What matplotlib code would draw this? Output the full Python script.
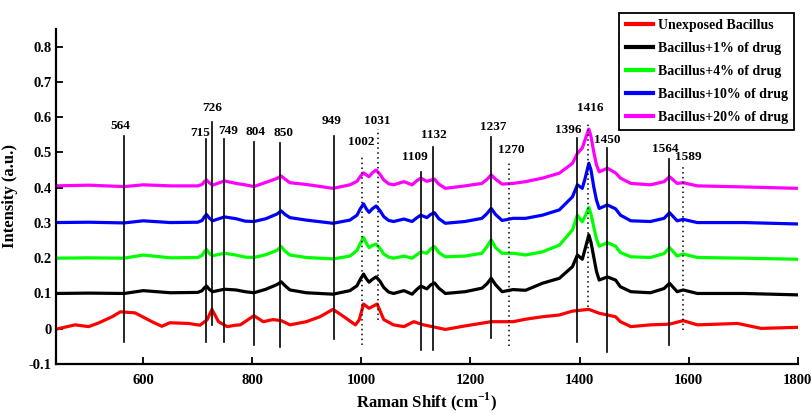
import matplotlib
matplotlib.use("Agg")
import matplotlib.pyplot as plt

plt.rcParams['font.family'] = ['Liberation Serif', 'DejaVu Serif']
plt.rcParams['font.weight'] = 'bold'
plt.rcParams['mathtext.fontset'] = 'custom'
plt.rcParams['mathtext.rm'] = 'Liberation Serif:bold'
plt.rcParams['mathtext.bf'] = 'Liberation Serif:bold'

# shared wavenumber grid for the four offset spectra
shift = [438, 500, 565, 600, 650, 700, 708, 712, 716, 721, 727, 749, 770, 787, 803, 825,
         845, 853, 860, 869, 899, 948, 979, 992, 998, 1004, 1009, 1014, 1020, 1027, 1034,
         1041, 1050, 1059, 1078, 1093, 1102, 1109, 1120, 1127, 1134, 1142, 1154, 1190, 1221,
         1230, 1238, 1246, 1258, 1278, 1301, 1332, 1363, 1387, 1396, 1405, 1410, 1417, 1421,
         1426, 1431, 1436, 1451, 1466, 1475, 1494, 1530, 1555, 1565, 1579, 1590, 1616, 1702, 1800]

drug1 = [0.100, 0.101, 0.100, 0.108, 0.102, 0.103, 0.108, 0.116, 0.121, 0.112, 0.105, 0.112,
         0.110, 0.105, 0.102, 0.112, 0.125, 0.133, 0.122, 0.110, 0.102, 0.098, 0.108, 0.122,
         0.140, 0.155, 0.142, 0.132, 0.140, 0.147, 0.135, 0.117, 0.104, 0.100, 0.108, 0.098,
         0.112, 0.121, 0.113, 0.124, 0.130, 0.115, 0.100, 0.105, 0.115, 0.127, 0.143, 0.125,
         0.105, 0.111, 0.109, 0.129, 0.143, 0.176, 0.209, 0.197, 0.225, 0.266, 0.245, 0.204,
         0.163, 0.138, 0.147, 0.138, 0.119, 0.105, 0.102, 0.114, 0.129, 0.105, 0.110, 0.100,
         0.100, 0.096]

drug4 = [0.200, 0.201, 0.200, 0.209, 0.201, 0.202, 0.208, 0.218, 0.225, 0.214, 0.207, 0.214,
         0.209, 0.203, 0.202, 0.210, 0.222, 0.233, 0.220, 0.209, 0.202, 0.198, 0.206, 0.222,
         0.242, 0.259, 0.243, 0.230, 0.236, 0.240, 0.228, 0.212, 0.203, 0.200, 0.206, 0.200,
         0.210, 0.218, 0.214, 0.226, 0.233, 0.216, 0.204, 0.206, 0.214, 0.232, 0.252, 0.230,
         0.214, 0.214, 0.209, 0.218, 0.237, 0.280, 0.322, 0.303, 0.318, 0.344, 0.325, 0.289,
         0.255, 0.234, 0.244, 0.234, 0.216, 0.204, 0.202, 0.213, 0.230, 0.206, 0.212, 0.202,
         0.200, 0.197]

drug10 = [0.301, 0.302, 0.300, 0.306, 0.301, 0.302, 0.307, 0.317, 0.324, 0.314, 0.306, 0.317,
          0.312, 0.305, 0.304, 0.312, 0.325, 0.334, 0.324, 0.315, 0.308, 0.299, 0.308, 0.322,
          0.340, 0.354, 0.340, 0.330, 0.340, 0.348, 0.335, 0.318, 0.307, 0.304, 0.311, 0.304,
          0.315, 0.322, 0.315, 0.324, 0.329, 0.312, 0.299, 0.304, 0.313, 0.326, 0.341, 0.324,
          0.307, 0.313, 0.313, 0.322, 0.337, 0.374, 0.408, 0.398, 0.425, 0.469, 0.450, 0.403,
          0.365, 0.341, 0.351, 0.340, 0.322, 0.306, 0.304, 0.313, 0.329, 0.306, 0.310, 0.301,
          0.301, 0.297]

drug20 = [0.405, 0.407, 0.403, 0.408, 0.405, 0.405, 0.409, 0.417, 0.422, 0.414, 0.407, 0.419,
          0.412, 0.408, 0.403, 0.415, 0.426, 0.433, 0.424, 0.414, 0.409, 0.398, 0.408, 0.418,
          0.432, 0.442, 0.436, 0.431, 0.442, 0.450, 0.438, 0.422, 0.411, 0.408, 0.417, 0.408,
          0.420, 0.427, 0.418, 0.421, 0.424, 0.410, 0.398, 0.405, 0.412, 0.423, 0.436, 0.424,
          0.410, 0.412, 0.417, 0.427, 0.441, 0.469, 0.497, 0.512, 0.535, 0.566, 0.545, 0.502,
          0.465, 0.445, 0.455, 0.442, 0.427, 0.412, 0.408, 0.417, 0.431, 0.412, 0.414, 0.405,
          0.402, 0.398]

# unexposed spectrum, read on its own grid
shift_ctrl = [438, 475, 500, 519, 543, 558, 585, 616, 634, 649, 683, 704, 717, 726, 738, 754,
              769, 778, 803, 820, 838, 853, 869, 899, 924, 948, 968, 989, 996, 1004, 1014,
              1029, 1041, 1059, 1078, 1096, 1114, 1130, 1154, 1190, 1238, 1278, 1301, 1332,
              1363, 1387, 1417, 1436, 1466, 1475, 1494, 1530, 1565, 1590, 1616, 1690, 1733, 1800]
ctrl = [-0.002, 0.011, 0.006, 0.017, 0.034, 0.048, 0.045, 0.020, 0.007, 0.017, 0.015, 0.010,
        0.025, 0.055, 0.020, 0.006, 0.010, 0.011, 0.037, 0.020, 0.026, 0.023, 0.011, 0.020,
        0.034, 0.055, 0.034, 0.011, 0.025, 0.070, 0.058, 0.070, 0.026, 0.011, 0.006, 0.020,
        0.011, 0.006, -0.002, 0.008, 0.020, 0.020, 0.027, 0.034, 0.039, 0.050, 0.055, 0.044,
        0.034, 0.020, 0.006, 0.011, 0.013, 0.023, 0.011, 0.015, 0.001, 0.004]

series = [
    ("Unexposed Bacillus", shift_ctrl, ctrl, "#ff0000"),
    ("Bacillus+1% of drug", shift, drug1, "#000000"),
    ("Bacillus+4% of drug", shift, drug4, "#00ff00"),
    ("Bacillus+10% of drug", shift, drug10, "#0000ff"),
    ("Bacillus+20% of drug", shift, drug20, "#ff00ff"),
]

# marked bands: position, solid/dotted, line top, line bottom
bands = [564, 715, 726, 749, 804, 850, 949, 1002, 1031, 1109, 1132, 1237, 1270, 1396, 1416, 1450, 1564, 1589]
dotted = [1002, 1031, 1270, 1416, 1589]
band_top = [0.547, 0.538, 0.586, 0.538, 0.529, 0.527, 0.547, 0.487, 0.566, 0.444, 0.515,
            0.544, 0.473, 0.541, 0.583, 0.512, 0.481, 0.458]
band_bottom = [-0.037, -0.037, 0.010, -0.037, -0.046, -0.051, -0.030, -0.046, 0.025, -0.060,
               -0.060, -0.026, -0.049, -0.037, 0.062, -0.065, -0.046, -0.004]
label_x = [558, 704, 727, 756, 805, 858, 945, 1000, 1029, 1098, 1133, 1242, 1275, 1379, 1420,
           1450, 1558, 1600]
label_y = [0.575, 0.555, 0.626, 0.561, 0.558, 0.555, 0.589, 0.529, 0.589, 0.487, 0.549, 0.572,
           0.507, 0.564, 0.626, 0.535, 0.510, 0.487]

fig = plt.figure(figsize=(8.11, 4.13), dpi=100)
ax = fig.add_axes([0.069, 0.1186, 0.9146, 0.8114])

for name, xs, ys, c in series:
    ax.plot(xs, ys, color=c, lw=2.3, label=name, solid_joinstyle='round')

for b, top, bot, lx, ly in zip(bands, band_top, band_bottom, label_x, label_y):
    if b in dotted:
        ax.plot([b, b], [bot, top], color='k', lw=1.1, linestyle=(0, (1, 2.2)))
    else:
        ax.plot([b, b], [bot, top], color='k', lw=1.2)
    ax.text(lx, ly, str(b), ha='center', va='center', fontsize=9.5, fontweight='bold')

ax.set_xlim(440, 1800)
ax.set_ylim(-0.1, 0.85)
ax.set_xticks([600, 800, 1000, 1200, 1400, 1600, 1800])
yt = [-0.1, 0, 0.1, 0.2, 0.3, 0.4, 0.5, 0.6, 0.7, 0.8]
ax.set_yticks(yt)
ax.set_yticklabels(['-0.1', '0', '0.1', '0.2', '0.3', '0.4', '0.5', '0.6', '0.7', '0.8'])
ax.tick_params(direction='in', length=5, width=1.3, labelsize=10.5, pad=3)
ax.tick_params(axis='x', pad=7)
for lab in ax.get_xticklabels() + ax.get_yticklabels():
    lab.set_fontweight('bold')
ax.spines['top'].set_visible(False)
ax.spines['right'].set_visible(False)
ax.spines['left'].set_linewidth(1.6)
ax.spines['bottom'].set_linewidth(1.6)

ax.set_xlabel("Raman Shift (cm$^{\\mathbf{-1}}$)", fontsize=12, fontweight='bold', labelpad=3)
ax.set_ylabel("Intensity (a.u.)", fontsize=12, fontweight='bold', labelpad=8)

leg = ax.legend(loc='upper right', bbox_to_anchor=(0.979, 0.969), bbox_transform=fig.transFigure,
                fancybox=False, edgecolor='k', framealpha=1, fontsize=10, handlelength=2.0,
                handletextpad=0.3, labelspacing=0.72, borderpad=0.45, borderaxespad=0)
leg.get_frame().set_linewidth(1.3)
for t in leg.get_texts():
    t.set_fontweight('bold')
for h in leg.get_lines():
    h.set_linewidth(3)

fig.savefig("out.png", dpi=100)
